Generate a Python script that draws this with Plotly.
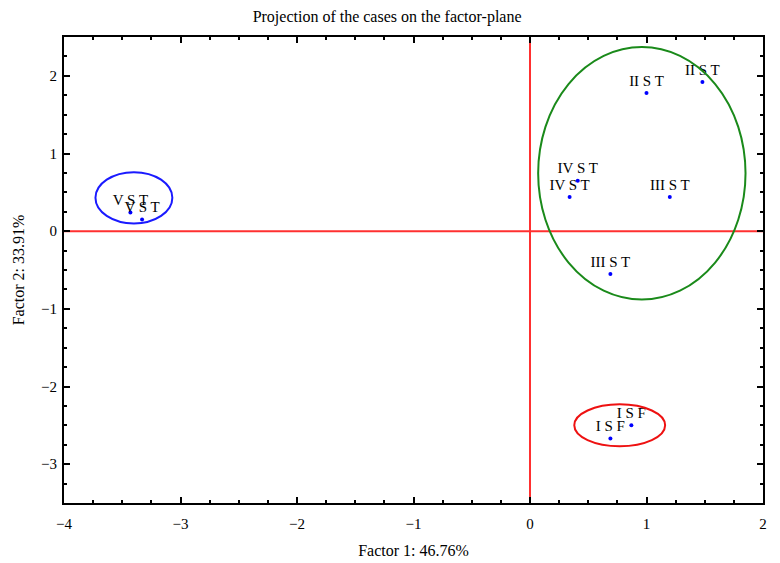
import plotly.graph_objects as go

labels = ["II S T", "II S T", "IV S T", "IV S T", "III S T", "III S T", "I S F", "I S F", "V S T", "V S T"]
factor1 = [1.00, 1.48, 0.41, 0.34, 1.20, 0.69, 0.87, 0.69, -3.43, -3.33]
factor2 = [1.78, 1.92, 0.65, 0.44, 0.44, -0.55, -2.50, -2.67, 0.24, 0.15]

# cluster ellipses: x0, x1, y0, y1, colour
ell_x0 = [0.07, -3.73, 0.38]
ell_x1 = [1.85, -3.07, 1.16]
ell_y0 = [-0.88, 0.10, -2.77]
ell_y1 = [2.37, 0.76, -2.23]
ell_col = ["#1a8a1a", "#1a1aff", "#ee1111"]

xticks = [-4, -3, -2, -1, 0, 1, 2]
yticks = [-3, -2, -1, 0, 1, 2]

def fmt(v):
    return ("\u2212" + str(abs(v))) if v < 0 else str(v)

serif = "Liberation Serif, Times New Roman, serif"

fig = go.Figure()
fig.add_trace(go.Scatter(
    x=factor1, y=factor2, mode="markers+text", text=labels,
    textposition="top center", textfont=dict(family=serif, size=15, color="black"),
    marker=dict(color="#0000ff", size=4), cliponaxis=False, showlegend=False))

shapes = []
shapes.append(dict(type="line", xref="x", yref="paper", x0=0, x1=0, y0=0, y1=1,
                   line=dict(color="#ff3030", width=2), layer="below"))
shapes.append(dict(type="line", xref="paper", yref="y", x0=0, x1=1, y0=0, y1=0,
                   line=dict(color="#ff3030", width=2), layer="below"))
for a, b, c, d, col in zip(ell_x0, ell_x1, ell_y0, ell_y1, ell_col):
    shapes.append(dict(type="circle", xref="x", yref="y", x0=a, x1=b, y0=c, y1=d,
                       line=dict(color=col, width=2)))

axis_common = dict(showgrid=False, zeroline=False, showline=True, linecolor="black", linewidth=2,
                   mirror="allticks", ticks="inside", ticklen=6, tickwidth=1.5, tickcolor="black",
                   automargin=False,
                   tickfont=dict(family=serif, size=15, color="black"),
                   minor=dict(ticks="inside", dtick=0.25, ticklen=3, tickcolor="black", showgrid=False))

fig.update_layout(
    width=780, height=563,
    margin=dict(l=56, r=25, t=29, b=68),
    paper_bgcolor="white", plot_bgcolor="white",
    title=dict(text="Projection of the cases on the factor-plane", x=0.486, xanchor="center",
               y=0.985, yanchor="middle", pad=dict(t=0, b=0), automargin=False,
               font=dict(family=serif, size=16, color="black")),
    xaxis=dict(range=[-4, 2], tickvals=xticks, ticktext=[fmt(v) for v in xticks],
               ticklabelstandoff=6,
               title=dict(text="Factor 1: 46.76%", font=dict(family=serif, size=16, color="black"), standoff=14),
               **axis_common),
    yaxis=dict(range=[-3.5, 2.5], tickvals=yticks, ticktext=[fmt(v) for v in yticks],
               ticklabelstandoff=2,
               title=dict(text="Factor 2: 33.91%", font=dict(family=serif, size=16, color="black"), standoff=12),
               **axis_common),
    shapes=shapes,
)

fig.write_html("out.html")
